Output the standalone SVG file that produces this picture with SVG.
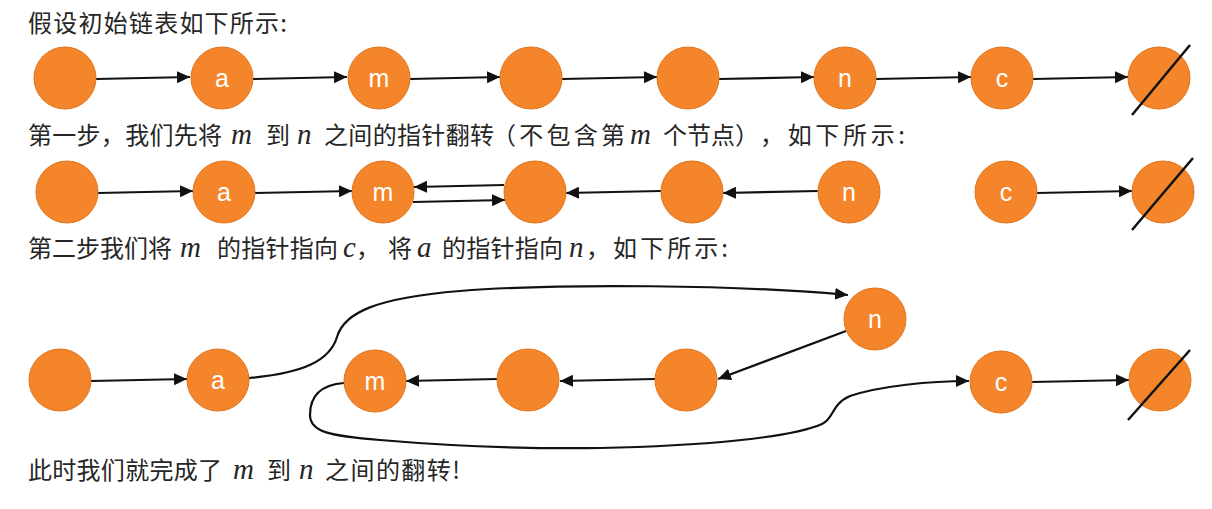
<svg xmlns="http://www.w3.org/2000/svg" width="1212" height="509" viewBox="0 0 1212 509">
<style>
.t{font-family:"Noto Sans CJK SC","Noto Sans",sans-serif;font-size:24px;fill:#262626}
.mi{font-family:"Liberation Serif",serif;font-style:italic;font-size:29px;fill:#262626}
.nd{fill:#F5852B;stroke:#E0741C;stroke-width:1}
.lb{font-family:"Liberation Sans",Arial,sans-serif;font-size:25px;fill:#fff;text-anchor:middle}
.e{stroke:#111;stroke-width:2.2;fill:none}
.s{stroke:#111;stroke-width:2.5}
</style>
<defs>
<marker id="ah" markerUnits="userSpaceOnUse" markerWidth="14" markerHeight="12" refX="13" refY="6" orient="auto">
<path d="M0,0 L13,6 L0,12 Z" fill="#111"/>
</marker>
</defs>

<!-- texts -->
<text class="t" x="28" y="32" textLength="259" lengthAdjust="spacing">假设初始链表如下所示:</text>
<g>
<text class="t" x="28" y="144" textLength="194" lengthAdjust="spacing">第一步，我们先将</text>
<text class="mi" x="231" y="144">m</text>
<text class="t" x="266" y="144">到</text>
<text class="mi" x="297" y="144">n</text>
<text class="t" x="324" y="144" textLength="170" lengthAdjust="spacing">之间的指针翻转</text>
<text class="t" x="492" y="144" textLength="133" lengthAdjust="spacing">（不包含第</text>
<text class="mi" x="630" y="144">m</text>
<text class="t" x="663" y="144" textLength="96" lengthAdjust="spacing">个节点）</text>
<text class="t" x="760" y="144" textLength="145" lengthAdjust="spacing">，如下所示:</text>
</g>
<g>
<text class="t" x="28" y="257" textLength="144" lengthAdjust="spacing">第二步我们将</text>
<text class="mi" x="180" y="257">m</text>
<text class="t" x="217" y="257" textLength="121" lengthAdjust="spacing">的指针指向</text>
<text class="mi" x="343" y="257">c</text>
<text class="t" x="356" y="257" textLength="56" lengthAdjust="spacing">，将</text>
<text class="mi" x="417" y="257">a</text>
<text class="t" x="442" y="257" textLength="121" lengthAdjust="spacing">的指针指向</text>
<text class="mi" x="569" y="257">n</text>
<text class="t" x="586" y="257" textLength="142" lengthAdjust="spacing">，如下所示:</text>
</g>
<g>
<text class="t" x="28" y="479" textLength="194" lengthAdjust="spacing">此时我们就完成了</text>
<text class="mi" x="233" y="479">m</text>
<text class="t" x="267" y="479">到</text>
<text class="mi" x="299" y="479">n</text>
<text class="t" x="325" y="479" textLength="135" lengthAdjust="spacing">之间的翻转!</text>
</g>

<!-- connectors -->
<g id="connectors">
<!-- row 1 -->
<line class="e" x1="96" y1="79" x2="190" y2="77" marker-end="url(#ah)"/>
<line class="e" x1="253" y1="79" x2="347" y2="77" marker-end="url(#ah)"/>
<line class="e" x1="410" y1="79" x2="500" y2="77" marker-end="url(#ah)"/>
<line class="e" x1="562" y1="79" x2="657" y2="77" marker-end="url(#ah)"/>
<line class="e" x1="719" y1="79" x2="814" y2="77" marker-end="url(#ah)"/>
<line class="e" x1="876" y1="79" x2="971" y2="77" marker-end="url(#ah)"/>
<line class="e" x1="1033" y1="79" x2="1128" y2="77" marker-end="url(#ah)"/>
<!-- row 2 -->
<line class="e" x1="98" y1="193" x2="193" y2="191" marker-end="url(#ah)"/>
<line class="e" x1="255" y1="193" x2="352" y2="191" marker-end="url(#ah)"/>
<line class="e" x1="504" y1="185" x2="414" y2="187" marker-end="url(#ah)"/>
<line class="e" x1="413" y1="202" x2="505" y2="200" marker-end="url(#ah)"/>
<line class="e" x1="661" y1="191" x2="566" y2="193" marker-end="url(#ah)"/>
<line class="e" x1="818" y1="191" x2="723" y2="193" marker-end="url(#ah)"/>
<line class="e" x1="1037" y1="193" x2="1132" y2="191" marker-end="url(#ah)"/>
<!-- row 3 -->
<line class="e" x1="91" y1="381" x2="187" y2="379" marker-end="url(#ah)"/>
<line class="e" x1="497" y1="379" x2="406" y2="381" marker-end="url(#ah)"/>
<line class="e" x1="655" y1="379" x2="560" y2="381" marker-end="url(#ah)"/>
<line class="e" x1="846" y1="331" x2="718" y2="379" marker-end="url(#ah)"/>
<line class="e" x1="1032" y1="382" x2="1129" y2="380" marker-end="url(#ah)"/>
<path class="e" d="M249,378 C305,373 330,360 337,337 C344,313 375,298 460,291 C560,283 740,285 848,295" marker-end="url(#ah)"/>
<path class="e" d="M344,383 C318,385 310,398 310,415 C310,432 330,436 380,440 C450,446 520,449 600,448 C700,446 790,438 822,424 C835,418 830,405 850,396 C880,386 930,381 969,381" marker-end="url(#ah)"/>
</g>

<!-- row 1 nodes -->
<g id="r1n1"><circle class="nd" cx="65" cy="78" r="31"/></g>
<g id="r1a"><circle class="nd" cx="222" cy="78" r="31"/><text class="lb" x="222" y="87">a</text></g>
<g id="r1m"><circle class="nd" cx="379" cy="78" r="31"/><text class="lb" x="379" y="87">m</text></g>
<g id="r1n4"><circle class="nd" cx="531" cy="78" r="31"/></g>
<g id="r1n5"><circle class="nd" cx="688" cy="78" r="31"/></g>
<g id="r1n"><circle class="nd" cx="845" cy="78" r="31"/><text class="lb" x="845" y="87">n</text></g>
<g id="r1c"><circle class="nd" cx="1002" cy="78" r="31"/><text class="lb" x="1002" y="87">c</text></g>
<g id="r1null"><circle class="nd" cx="1159" cy="78" r="31"/><line class="s" x1="1132" y1="115" x2="1190" y2="45"/></g>

<!-- row 2 nodes -->
<g id="r2n1"><circle class="nd" cx="67" cy="192" r="31"/></g>
<g id="r2a"><circle class="nd" cx="224" cy="192" r="31"/><text class="lb" x="224" y="201">a</text></g>
<g id="r2m"><circle class="nd" cx="383" cy="192" r="31"/><text class="lb" x="383" y="201">m</text></g>
<g id="r2n4"><circle class="nd" cx="535" cy="192" r="31"/></g>
<g id="r2n5"><circle class="nd" cx="692" cy="192" r="31"/></g>
<g id="r2n"><circle class="nd" cx="849" cy="192" r="31"/><text class="lb" x="849" y="201">n</text></g>
<g id="r2c"><circle class="nd" cx="1006" cy="192" r="31"/><text class="lb" x="1006" y="201">c</text></g>
<g id="r2null"><circle class="nd" cx="1163" cy="192" r="31"/><line class="s" x1="1132" y1="230" x2="1193" y2="158"/></g>

<!-- row 3 nodes -->
<g id="r3n1"><circle class="nd" cx="60" cy="380" r="31"/></g>
<g id="r3a"><circle class="nd" cx="218" cy="380" r="31"/><text class="lb" x="218" y="389">a</text></g>
<g id="r3m"><circle class="nd" cx="375" cy="381" r="31"/><text class="lb" x="375" y="390">m</text></g>
<g id="r3n4"><circle class="nd" cx="528" cy="380" r="31"/></g>
<g id="r3n5"><circle class="nd" cx="686" cy="380" r="31"/></g>
<g id="r3n"><circle class="nd" cx="875" cy="319" r="31"/><text class="lb" x="875" y="328">n</text></g>
<g id="r3c"><circle class="nd" cx="1001" cy="382" r="31"/><text class="lb" x="1001" y="391">c</text></g>
<g id="r3null"><circle class="nd" cx="1160" cy="380" r="31"/><line class="s" x1="1128" y1="420" x2="1190" y2="350"/></g>
</svg>
